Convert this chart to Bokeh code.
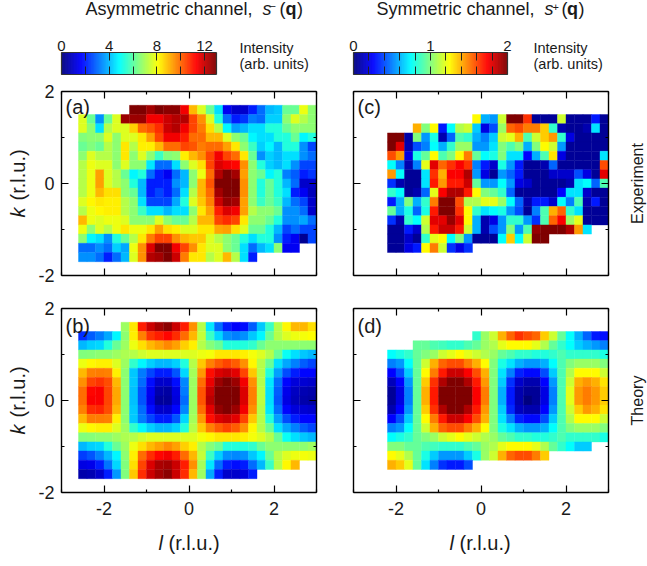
import math
import numpy as np
from bokeh.embed import file_html
from bokeh.resources import INLINE
from bokeh.plotting import figure
from bokeh.layouts import row, column
from bokeh.models import LinearAxis, FixedTicker, Label, ColumnDataSource, LinearColorMapper
from bokeh.transform import transform

N = None
BAR_A_TICKS = [0, 2, 4, 6, 8, 10, 12]
BAR_C_TICKS = [0, 0.2, 0.4, 0.6, 0.8, 1, 1.2, 1.4, 1.6, 1.8, 2]
VMAX_A = 13
VMAX_C = 2

GRID_A = [
[N,N,N,N,N,N,13,13,12.5,13,12.8,12.8,11.5,9,7.7,6.2,4.5,1.5,1,1,2,3,4,4.2,6.2,6.2,7.9,6.7],
[7.7,6.2,3.5,6.2,7.7,12.6,12.6,12.6,11.5,11.5,12,12.3,12.3,10.5,9.5,7.7,5.3,3,2,2.3,3.2,3,4.3,4.3,6.7,7.7,7.2,6.7],
[7.7,6.7,4.5,7.2,7.7,7.7,8.7,10,10.3,10.8,12,12.3,11.5,10.5,9.8,8.5,7.2,4.8,3.7,4,4.5,4.5,5.3,5.3,6.2,6.7,6.7,6.7],
[6.5,6.7,6.7,7.7,6.7,7.7,7.7,8.4,9.3,10.5,11.5,11.5,11,10,10,9,9,7.7,6.7,6.2,4.8,4.5,4.5,5.3,5.3,6.2,4.8,5.3],
[6.2,6.5,6.2,7.2,6.7,8.4,7.2,8.3,8.3,9,10,10,10.5,10.3,9.8,10,10,9.3,8.4,6.7,5.6,4.3,4.8,4,5.3,5.3,3.5,2.5],
[6.7,7.7,7.2,7.2,6.7,8.4,6.7,7.7,6.7,5.6,6.5,6.7,8.3,9,9.5,10.5,11.5,10.5,10,8.4,6.2,3.5,4.3,4,4.5,4.5,3.5,3],
[7.2,7.9,7.7,7.7,6.7,7.7,6.7,6.7,4.6,3,3,4.5,6.7,7.7,8.5,10.5,11.8,11.5,11.3,9.5,6.7,5.3,4.3,4,4.5,3.5,2.5,2.5],
[7.2,7.9,9.3,7.7,7.2,6.2,4.8,5.3,3,2,1.5,3,4,6.7,7.9,10,12.3,13,12.5,9.3,6.7,6.2,4.8,5.3,3.3,2.8,2,2.3],
[7.2,7.9,9.3,7.7,7.2,6.7,5.3,4,2,2,2,3.5,4,6.7,9,10.3,13,13,13,9.5,6.7,5.3,6.2,5.3,4,3,1,1],
[7.2,7.9,9,8.5,8.5,6.7,6.2,4,2,2.5,2,3,4.5,7.2,9,10,12.5,13,13,9.5,6.7,5.3,6.2,5.3,4.5,2,1.5,0.8],
[7.7,8.2,8.4,8.3,8.3,7.2,6.7,4.5,2.5,2.5,2.5,3.8,5.3,7.7,8.8,9.7,12,12.7,12.5,9.3,6.7,5.6,6.2,5.6,4,3,2.5,1],
[7.2,7.9,8.2,8.3,8.3,7.2,6.7,5.6,4.5,4.5,4,4.5,4.5,6.7,8.4,9.3,11,11.8,11.5,9.3,7.2,6.7,6.7,6.2,3.5,3.5,3,1],
[9,7.9,7.7,7.9,7.9,7.7,6.7,6.7,6.7,7.7,6.7,6.2,6.2,7.2,9,9,10.5,10.8,10.5,8.4,6.7,6.7,6.2,5.3,3.5,3.5,3.8,3],
[7.9,6.7,7.7,7.2,7.9,8.4,7.9,7.9,8.4,9.3,8.5,8.3,7.7,7.7,8.4,8.4,9.2,9.3,8.5,7.7,6.2,6.2,5.3,4,2.5,3,2.5,2.5],
[6.7,4.8,4.5,3.5,5.3,6.2,7.2,8.4,9.8,10.5,10.5,9.5,9,8.8,8.8,7.7,7.2,6.7,6.2,5.3,4.5,5.3,5.3,3.5,2,1.5,0.3,2.5],
[3,3,3.5,3,4.3,3.8,7.9,9.5,11.8,13,13,11.5,10.5,9.5,8.4,7.7,7.7,6.7,6.2,4.5,3,4,4.5,6.7,1.5,1.5,N,N],
[3.5,3.5,3,2,3,4,7.7,9.5,12.3,12.5,13,12,9.8,8.4,8.4,7.2,7.7,9,7.2,4.5,2,N,N,N,N,N,N,N],
]

GRID_B = [
[N,N,N,N,N,6.9,8.4,11,12,12.5,12.8,12,11,9.5,7.2,4.6,3,2,1.6,1.8,2.8,4.2,5.6,7.2,8.2,9,9,8.5],
[2.2,2.8,3.2,3.8,4.8,6.7,8.3,9.7,10.7,11,11.3,10.8,10,9,7.4,5.6,4.4,3.5,3.3,3.5,4.2,4.8,6.2,7.2,7.7,7.9,8,8.1],
[4,4.3,4.4,5.3,6.2,6.9,7.9,8.5,9,9.3,9.6,9.3,8.7,8.3,7.2,6.6,6.2,5.3,5.3,5.3,5.5,6.2,6.7,6.7,6.7,6.7,6.7,6.7],
[6.5,6.6,6.7,6.7,6.9,7.1,7.2,7.5,7.7,7.7,7.7,7.7,7.7,7.7,7.9,8,8.4,8.4,8.4,8.3,8,7.7,7.2,6.2,5,4.5,4.2,4],
[7.9,8.2,8.3,8.3,7.7,6.9,5.5,4.8,4.3,4,4,4.3,5.3,7.2,8.8,9.7,10.2,10.5,10.2,9.5,8.2,7.2,6.2,4.5,3.8,3.3,2.8,2.5],
[9,9.7,9.8,9.7,8.3,6.7,4.2,3.2,2.5,2,2,2.7,4.4,7,9.4,11.2,11.8,12,11.7,10.5,8.8,7.2,5.3,3.7,2.6,2,1.7,1.7],
[9.5,10.5,10.7,10.4,9,6.7,4.2,3,1.8,1,1,1.8,3.4,6.9,10,11.6,12.6,13,12.6,11.5,9.5,7.2,4.6,3,1.7,1.2,1.1,1],
[10,11.3,11.4,10.5,9.2,6.7,4.1,2.7,1.5,0.6,0.5,1.3,3.2,6.9,10.3,12,13,13,13,11.8,9.7,7.3,4.5,2.8,1.4,0.9,0.7,0.6],
[10,11.4,11.4,10.5,9.2,6.7,4.1,2.7,1.4,0.4,0.4,1.2,3,6.9,10.3,12.2,13,13,13,11.8,9.7,7.3,4.5,2.7,1.3,0.8,0.6,0.5],
[9.7,10.8,10.9,10.4,9,6.7,4.2,3,1.8,1,1,1.7,3.4,6.9,10,11.7,12.7,13,12.6,11.5,9.5,7.2,4.6,3,1.7,1.2,1.1,1],
[9,9.8,9.8,9.7,8.3,6.7,4.2,3.2,2.5,2,2,2.7,4.4,7,9.4,11.2,11.8,12,11.7,10.5,8.8,7.2,5.3,3.7,2.6,2,1.7,1.7],
[7.9,8.2,8.3,8.3,7.7,6.9,5.5,4.8,4.3,4,4,4.3,5.3,7.2,8.8,9.7,10.2,10.5,10.2,9.5,8.2,7.2,6.2,4.5,3.8,3.3,2.8,2.5],
[6.5,6.6,6.7,6.7,6.9,7.1,7.2,7.5,7.7,7.7,7.7,7.7,7.7,7.7,8,8.2,8.4,8.4,8.4,8.3,8,7.7,7.2,6.2,5,4.5,4.2,4],
[4,4.3,4.4,5.3,6.2,6.9,7.9,8.5,9,9.3,9.6,9.3,8.7,8.3,7.2,6.6,6.2,5.3,5.3,5.3,5.5,6.2,6.7,6.7,6.7,6.7,6.7,6.9],
[2.4,2.7,3.3,4,4.8,6.7,8.3,10,10.8,11.3,11.5,11,10,9,7.4,5.6,4.3,3.5,3.4,3.5,4.2,4.8,6.2,7.2,7.7,7.9,8,7.9],
[1.3,1.4,2,3.1,4.4,6.5,8.5,10.5,11.8,12.4,12.5,12,11,9.5,7,4.6,3,2,1.8,2,3,4,5.6,7.2,8.2,9,N,N],
[0.6,0.7,1,2,3.6,6.5,8.8,10.8,12,12.5,12.8,12,10.8,9,6.9,3.8,2,1,1,1.2,2,N,N,N,N,N,N,N],
]

GRID_C = [
[N,N,N,N,N,N,N,N,N,N,1.25,.6,.55,1.15,2,2,1.65,.05,.05,.05,1.15,.05,.05,.05,.3,.05],
[N,N,N,1.4,1,1.25,.3,.75,1.1,1.15,.65,.2,.4,1.05,1.55,1.6,1.5,1.5,1.35,.85,.1,.05,.05,.1,.7,.05],
[2,2,.08,1,.55,.8,.1,.45,.9,.85,.6,.5,.65,1.15,1.2,1.4,.9,1.15,1.35,1.45,.85,.2,.05,.05,.05,.05],
[2,1.8,.1,.4,.5,.75,.6,.85,1.05,1.05,.55,.55,.7,1,.9,1,.6,1,1.25,1.15,.55,.05,.05,.05,.05,.05],
[1.6,1.45,.2,.8,.95,1.25,.9,1,1.25,1.5,.95,.75,.8,1,.7,.7,.25,.6,.9,1.3,.2,.05,.05,.05,.05,.7],
[.75,.5,.1,.5,1.2,1.8,1.55,1.65,1.75,1.65,.5,.3,.15,.8,.55,.3,.05,.05,.1,.45,.05,.05,.05,.05,.05,1.6],
[1.45,.75,.05,.05,.7,1.65,1.4,1.75,1.75,1.9,.55,.2,.05,.55,.45,.3,.05,.05,.05,.15,.15,.15,.4,.2,.05,1.8],
[.35,.1,.05,.05,.7,1.7,1.45,1.7,1.7,1.85,.95,.55,.55,.75,.55,.2,.15,.05,.05,.05,.05,.1,.7,.75,.45,.9],
[.85,.75,.05,.1,.45,1.2,1.75,1.9,1.9,1.7,1.25,1,.95,.85,.45,.05,.05,.05,.05,.05,.25,.7,.7,.15,.05,.05],
[.3,.6,1,.6,.85,1.5,2,2,1.6,1.1,1.1,1.2,1.2,1.05,.75,.45,.1,.3,.3,.15,.75,.5,.9,.1,.3,.05],
[.95,.6,.8,.45,.8,1.7,2,2,1.65,1.25,.85,.7,.75,.8,.55,.4,.05,.5,.9,1.4,1.55,.85,.7,.05,.05,.05],
[.35,.1,.85,.75,1.15,1.8,1.8,1.95,1.8,1.25,.6,.1,.2,.55,.85,.85,.55,.35,.9,1.55,1.75,1.05,1.2,.05,.05,.05],
[.05,.05,.3,.15,1.1,1.7,1.85,1.85,1.7,1.15,.6,.1,.4,.55,1,.55,.9,1.95,2,2,2,1.9,1.45,.7,N,N],
[.05,.05,.15,.05,.85,1.2,1.25,.75,1,.55,.05,.05,.05,.75,1.35,.75,1.15,2,2,N,N,N,N,N,N,N],
[.05,.05,.2,.3,1.25,1.5,1.15,.35,.2,.35,N,N,N,N,N,N,N,N,N,N,N,N,N,N,N,N],
]

GRID_D = [
[N,N,N,N,N,N,N,N,N,N,.85,1.05,1.15,1.4,1.55,1.65,1.6,1.55,1.35,1.15,.95,.75,.6,.45,.3,.28],
[N,N,N,.95,.95,.9,.88,.85,.85,.9,.95,1.05,1.1,1.2,1.25,1.25,1.25,1.2,1.1,.95,.85,.75,.65,.6,.55,.5],
[.75,.8,.85,.95,1,1.05,1.15,1.2,1.25,1.2,1.15,1.1,1.05,.95,.9,.85,.85,.82,.82,.85,.9,.85,.85,.85,.85,.8],
[.5,.55,.75,.95,1.15,1.4,1.55,1.6,1.6,1.5,1.4,1.25,1,.8,.7,.6,.55,.55,.6,.75,.9,1,1.05,1.05,1.05,1],
[.25,.4,.65,.95,1.25,1.5,1.7,1.85,1.85,1.75,1.6,1.4,1,.7,.5,.32,.27,.27,.4,.65,.9,1.1,1.25,1.25,1.25,1.15],
[.12,.25,.55,.95,1.35,1.65,1.9,2,2,1.9,1.7,1.45,1,.65,.35,.15,.1,.1,.25,.55,.9,1.15,1.4,1.45,1.4,1.3],
[.05,.2,.5,.95,1.4,1.7,2,2,2,2,1.75,1.5,1,.6,.3,.1,.05,.05,.2,.5,.9,1.2,1.45,1.5,1.45,1.35],
[.05,.2,.5,.95,1.4,1.7,2,2,2,2,1.75,1.5,1,.6,.3,.1,0,.05,.2,.5,.9,1.2,1.45,1.5,1.45,1.35],
[.1,.25,.55,.95,1.35,1.65,1.9,2,2,1.9,1.7,1.45,1,.65,.33,.13,.1,.1,.25,.55,.9,1.15,1.35,1.45,1.4,1.3],
[.25,.4,.65,.95,1.25,1.5,1.7,1.85,1.85,1.75,1.6,1.4,1,.7,.5,.32,.27,.27,.4,.65,.9,1.1,1.25,1.25,1.25,1.15],
[.5,.55,.75,.95,1.15,1.4,1.55,1.6,1.6,1.5,1.4,1.25,1,.8,.7,.6,.55,.55,.6,.75,.9,1,1.05,1.05,1.05,1],
[.75,.8,.85,.95,1,1.05,1.15,1.2,1.25,1.2,1.15,1.1,1.05,.95,.9,.85,.85,.82,.82,.85,.9,.85,.85,.85,.85,.8],
[1,1,.95,.95,.9,.88,.85,.85,.85,.9,.95,1.05,1.1,1.2,1.25,1.25,1.25,1.2,1.1,.95,.85,.75,.65,.65,N,N],
[1.25,1.2,1.1,.95,.8,.65,.55,.55,.55,.65,.8,1.05,1.15,1.4,1.55,1.6,1.6,1.5,1.35,N,N,N,N,N,N,N],
[1.4,1.35,1.2,.95,.7,.5,.35,.3,.3,.4,N,N,N,N,N,N,N,N,N,N,N,N,N,N,N,N],
]

FONT = "Liberation Sans"
INK = "#1a1a1a"


def jet(n=256):
    t = np.linspace(0, 1, n)
    chan = lambda c: np.clip(1.5 - np.abs(4 * t - c), 0, 1)
    return ["#%02x%02x%02x" % (int(r * 255), int(g * 255), int(b * 255))
            for r, g, b in zip(chan(3), chan(2), chan(1))]


PALETTE = jet()


class Box:
    """Maps page pixels to the data coordinates of one figure's frame."""
    def __init__(self, p, x0, x1, y0, y1, xr, yr):
        self.p, self.x0, self.x1, self.y0, self.y1, self.xr, self.yr = p, x0, x1, y0, y1, xr, yr

    def put(self, text, px, py, size=14, angle=0.0, style="normal", align="left"):
        # (px, py) is on the text's baseline; the label itself is anchored at its middle
        if angle:
            px -= 0.35 * size
        else:
            py -= 0.35 * size
        x = self.xr[0] + (px - self.x0) / (self.x1 - self.x0) * (self.xr[1] - self.xr[0])
        y = self.yr[1] - (py - self.y0) / (self.y1 - self.y0) * (self.yr[1] - self.yr[0])
        self.p.add_layout(Label(x=x, y=y, text=text, text_font=FONT, text_font_size=f"{size}px",
                                text_font_style=style, text_color=INK, text_align=align,
                                text_baseline="middle", angle=angle))


def strip(x0, y0, w, h, frame_top=None, frame_bottom=None):
    """A figure without marks that carries only text. In a row its frame lines up with its neighbours'."""
    p = figure(width=w, height=h, x_range=(0, w), y_range=(0, h), x_axis_type=None, y_axis_type=None,
               toolbar_location=None, output_backend="svg", min_border=0, outline_line_color=None,
               border_fill_color=None, background_fill_color=None)
    p.grid.visible = False
    fy0 = y0 if frame_top is None else frame_top
    fy1 = y0 + h if frame_bottom is None else frame_bottom
    return Box(p, x0, x0 + w, fy0, fy1, (0, w), (0, h))


def panel(grid, l0, k0, vmax, fig_x, left, right, fig_w, fig_top, fig_h, top_b, bot_b, show_y, show_x):
    p = figure(width=fig_w, height=fig_h, x_range=(-3, 3), y_range=(-2, 2),
               x_axis_type=None, y_axis_type=None, toolbar_location=None, output_backend="svg",
               min_border_left=left, min_border_right=fig_w - right, min_border_top=top_b,
               min_border_bottom=bot_b, outline_line_color=None, background_fill_color="white",
               border_fill_color=None)
    p.grid.visible = False
    ls, rs, ts, bs, vs = [], [], [], [], []
    for r, vals in enumerate(grid):
        for c, v in enumerate(vals):
            if v is None:
                continue
            ls.append(l0 + 0.2 * c)
            rs.append(l0 + 0.2 * (c + 1))
            ts.append(k0 - 0.2 * r)
            bs.append(k0 - 0.2 * (r + 1))
            vs.append(v)
    src = ColumnDataSource(dict(left=ls, right=rs, top=ts, bottom=bs, v=vs))
    mapper = LinearColorMapper(palette=PALETTE, low=0, high=vmax)
    p.quad(left="left", right="right", top="top", bottom="bottom", source=src,
           fill_color=transform("v", mapper), line_color=transform("v", mapper), line_width=0.4)
    xt = FixedTicker(ticks=[-2, 0, 2], minor_ticks=[-3, -1, 1, 3])
    yt = FixedTicker(ticks=[-2, 0, 2], minor_ticks=[-1, 1])
    ov = {-2: "-2"}
    style = dict(axis_line_color="black", axis_line_width=1.4, major_tick_line_color="black",
                 major_tick_line_width=1.2, major_tick_in=7, major_tick_out=0,
                 minor_tick_line_color="black", minor_tick_line_width=1.2, minor_tick_in=3, minor_tick_out=0,
                 major_label_text_font=FONT, major_label_text_font_size="18px", major_label_text_color=INK,
                 major_label_overrides=ov)
    blank = dict(style, major_label_text_font_size="0px", major_label_text_color=None, major_label_standoff=0)
    p.add_layout(LinearAxis(ticker=xt, major_label_standoff=9, **style) if show_x
                 else LinearAxis(ticker=xt, **blank), "below")
    p.add_layout(LinearAxis(ticker=xt, **blank), "above")
    p.add_layout(LinearAxis(ticker=yt, major_label_standoff=7, **style) if show_y
                 else LinearAxis(ticker=yt, **blank), "left")
    p.add_layout(LinearAxis(ticker=yt, **blank), "right")
    return Box(p, fig_x + left, fig_x + right, fig_top + top_b, fig_top + fig_h - bot_b, (-3, 3), (-2, 2))


def bar(vmax, ticks, labelled, left, right, fig_w):
    p = figure(width=fig_w, height=57, x_range=(0, vmax), y_range=(0, 1),
               x_axis_type=None, y_axis_type=None, toolbar_location=None, output_backend="svg",
               min_border_left=left, min_border_right=fig_w - right, min_border_top=30, min_border_bottom=5,
               outline_line_color=None, border_fill_color=None)
    p.grid.visible = False
    e = np.linspace(0, vmax, len(PALETTE) + 1)
    p.quad(left=e[:-1], right=e[1:], top=1, bottom=0, fill_color=PALETTE, line_color=PALETTE, line_width=0.4)
    tk = FixedTicker(ticks=ticks)
    style = dict(axis_line_color="#333333", axis_line_width=1.2, major_tick_line_color="#222222",
                 major_tick_line_width=1, major_tick_in=8, major_tick_out=0, minor_tick_line_color=None,
                 major_label_text_font=FONT, major_label_text_font_size="15px",
                 major_label_text_color=INK, major_label_standoff=2)
    ov = {t: (str(t) if t in labelled else "") for t in ticks}
    blank = dict(style, major_label_text_font_size="0px", major_label_text_color=None, major_label_standoff=0)
    p.add_layout(LinearAxis(ticker=tk, major_label_overrides=ov, **style), "above")
    p.add_layout(LinearAxis(ticker=tk, **blank), "below")
    yt = FixedTicker(ticks=[])
    p.add_layout(LinearAxis(ticker=yt, **blank), "left")
    p.add_layout(LinearAxis(ticker=yt, **blank), "right")
    return p


title = strip(0, 0, 647, 22)
bar_a = bar(VMAX_A, BAR_A_TICKS, {0, 4, 8, 12}, 61, 216, 230)
key_a = strip(230, 22, 100, 57)
bar_c = bar(VMAX_C, BAR_C_TICKS, {0, 1, 2}, 23, 177, 200)
key_c = strip(530, 22, 117, 57)

left_a = strip(0, 79, 30, 214, 91, 275)
pa = panel(GRID_A, -2.6, 1.7, VMAX_A, 30, 31, 286, 300, 79, 214, 12, 18, True, False)
pc = panel(GRID_C, -2.2, 1.5, VMAX_C, 330, 23, 278, 298, 79, 214, 12, 18, False, False)
right_a = strip(628, 79, 19, 214, 91, 275)

left_b = strip(0, 293, 30, 227, 308, 492)
pb = panel(GRID_B, -2.6, 1.7, VMAX_A, 30, 31, 286, 300, 293, 227, 15, 28, True, True)
pd = panel(GRID_D, -2.2, 1.5, VMAX_C, 330, 23, 278, 298, 293, 227, 15, 28, False, True)
right_b = strip(628, 293, 19, 227, 308, 492)

foot = strip(0, 520, 647, 46)

# header texts
title.put("Asymmetric channel, ", 85, 15, 18)
title.put("s", 262, 15, 18, style="italic")
title.put("\u2212", 269, 9, 11)
title.put("(", 279, 15, 18)
title.put("q", 285, 15, 18, style="bold")
title.put(")", 296.5, 15, 18)
title.put("Symmetric channel, ", 376, 15, 18)
title.put("s", 544, 15, 18, style="italic")
title.put("+", 552, 10, 11)
title.put("(", 561, 15, 18)
title.put("q", 566.5, 15, 18, style="bold")
title.put(")", 578, 15, 18)
key_a.put("Intensity", 239, 53, 14.5)
key_a.put("(arb. units)", 239, 69, 14.5)
key_c.put("Intensity", 533, 53, 14.5)
key_c.put("(arb. units)", 533, 69, 14.5)

# panel letters
pa.put("(a)", 65, 113, 20)
pb.put("(b)", 65, 332, 20)
pc.put("(c)", 357, 113, 20)
pd.put("(d)", 357, 332, 20)

# axis titles
for b, cy in ((left_a, 183), (left_b, 400)):
    b.put("k", 24, cy + 34, 20, angle=math.pi / 2, style="italic")
    b.put("(r.l.u.)", 24, cy + 17, 20, angle=math.pi / 2)
foot.put("l", 158, 549, 20, style="italic")
foot.put("(r.l.u.)", 168, 549, 20)
foot.put("l", 449, 549, 20, style="italic")
foot.put("(r.l.u.)", 459, 549, 20)
right_a.put("Experiment", 643, 183, 16, angle=math.pi / 2, align="center")
right_b.put("Theory", 643, 400, 16, angle=math.pi / 2, align="center")

page = column(
    title.p,
    row(bar_a, column(key_a.p, spacing=0), bar_c, column(key_c.p, spacing=0), spacing=0),
    row(left_a.p, pa.p, pc.p, right_a.p, spacing=0),
    row(left_b.p, pb.p, pd.p, right_b.p, spacing=0),
    foot.p,
    spacing=0,
)
open("out.html", "w").write(file_html(page, INLINE))
